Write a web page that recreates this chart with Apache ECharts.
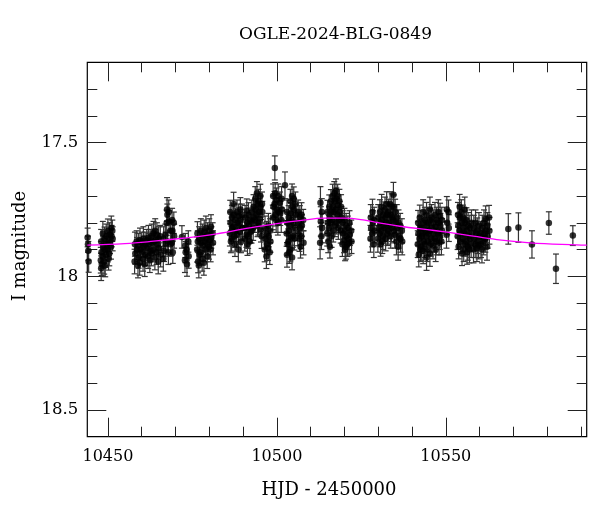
<!DOCTYPE html>
<html>
<head>
<meta charset="utf-8">
<script src="https://cdn.jsdelivr.net/npm/echarts@6/dist/echarts.min.js"></script>
<style>html,body{margin:0;padding:0;background:#fff}#c{width:600px;height:512px}</style>
</head>
<body>
<div id="c"></div>
<script>
// ---- data ----
const titleText = 'OGLE-2024-BLG-0849';
const xName = 'HJD - 2450000';
const yName = 'I magnitude';
const xMajor = [10450, 10500, 10550];
const xMinor = [10450,10460,10470,10480,10490,10500,10510,10520,10530,10540,10550,10560,10570,10580,10590];
const yMajor = [17.5, 18, 18.5];
const yMinor = [17.3,17.4,17.5,17.6,17.7,17.8,17.9,18,18.1,18.2,18.3,18.4,18.5];

const hjd = [
// A
10444.0,10444.1,10444.2,10444.3,
// B
10448.0,10448.1,10447.9,10448.2,10448.0,
10448.5,10448.6,10448.4,
10449.0,10449.1,10448.9,10449.2,
10449.5,10449.6,10449.4,
10450.0,10450.1,10449.9,10450.2,
10450.5,10450.6,10450.4,
10451.0,10451.1,10450.9,
10451.3,10451.4,
// C
10458.0,10458.1,10457.9,
10458.5,10458.6,
10459.0,10459.1,10458.9,
10459.5,10459.6,10459.4,
10460.0,10460.1,
10460.5,10460.6,10460.4,
10461.0,10461.1,10460.9,
10461.5,10461.6,
10462.0,10462.1,10461.9,
10462.5,10462.6,10462.4,
10463.0,10463.1,10462.9,
10463.5,10463.6,10463.4,
10464.0,10464.1,10463.9,
10464.5,10464.6,10464.4,
10465.0,10465.1,10464.9,
10465.5,10465.6,
// D
10466.5,10466.6,10466.4,
10467.0,10467.1,
10467.5,10467.6,10467.4,10467.7,
10468.0,10468.1,10467.9,
10468.5,10468.6,
10469.0,10469.1,10468.9,10469.2,
10469.5,10469.6,
// E
10471.9,
10472.9,10473.0,10472.8,
10473.3,10473.4,
10473.8,10473.9,
// F
10476.5,10476.6,10476.4,10476.7,
10477.0,10477.1,10476.9,
10477.5,10477.6,10477.4,
10478.0,10478.1,10477.9,
10478.5,10478.6,10478.4,
10479.0,10479.1,10478.9,
10479.5,10479.6,10479.4,
10480.0,10480.1,10479.9,
10480.5,10480.6,10480.4,
10481.0,10481.1,
// G
10486.2,10486.3,10486.1,10486.4,
10486.7,10486.8,10486.6,
10487.2,10487.3,10487.1,10487.4,
10487.7,10487.8,10487.6,
10488.2,10488.3,10488.1,
10488.7,10488.8,10488.6,
10489.2,10489.3,10489.1,10489.4,
10489.7,10489.8,
// H
10490.6,10490.7,10490.5,
10491.1,10491.2,10491.0,10491.3,
10491.6,10491.7,10491.5,
10492.1,10492.2,10492.0,
10492.6,10492.7,10492.5,
10493.1,10493.2,10493.0,
// I
10493.6,10493.7,10493.5,
10494.1,10494.2,10494.0,10494.3,
10494.6,10494.7,10494.5,
10495.1,10495.2,10495.0,10495.3,
10495.6,10495.7,10495.5,
// J
10496.5,10496.6,10496.4,
10497.0,10497.1,10496.9,
10497.5,10497.6,10497.4,
10498.0,10498.1,10497.9,
// K
10498.9,10499.0,10498.8,
10499.4,10499.5,10499.3,10499.6,
10499.9,10500.0,10499.8,
10500.4,10500.5,10500.3,
10500.9,10501.0,
10501.4,10501.5,10501.3,
10502.4,
// L
10503.0,10503.1,10502.9,10503.2,10503.0,
10503.5,10503.6,10503.4,10503.7,
10504.0,10504.1,10503.9,10504.2,10504.0,
10504.5,10504.6,10504.4,10504.7,10504.5,
10505.0,10505.1,10504.9,10505.2,
10505.5,10505.6,10505.4,
// M
10506.3,10506.4,10506.2,
10506.8,10506.9,10506.7,10507.0,
10507.3,10507.4,10507.2,
10507.8,10507.9,
// N
10512.9,10513.0,10512.8,
10513.3,10513.4,10513.2,
// O
10515.0,10515.1,10514.9,10515.2,
10515.5,10515.6,10515.4,10515.7,
10516.0,10516.1,10515.9,10516.2,
10516.5,10516.6,10516.4,10516.7,
10517.0,10517.1,10516.9,10517.2,
10517.5,10517.6,10517.4,10517.7,
10518.0,10518.1,10517.9,10518.2,
10518.5,10518.6,10518.4,
10519.0,10519.1,10518.9,
// P
10519.5,10519.6,10519.4,
10520.0,10520.1,10519.9,10520.2,
10520.5,10520.6,10520.4,
10521.0,10521.1,10520.9,
10521.5,10521.6,10521.4,
10522.0,10522.1,
// Q
10527.8,10527.9,10527.7,
10528.3,10528.4,10528.2,
10528.8,10528.9,10528.7,
// R
10530.0,10530.1,10529.9,
10530.5,10530.6,10530.4,10530.7,
10531.0,10531.1,10530.9,10531.2,
10531.5,10531.6,10531.4,
10532.0,10532.1,10531.9,10532.2,
10532.5,10532.6,10532.4,10532.7,
10533.0,10533.1,10532.9,
10533.5,10533.6,10533.4,10533.7,
10534.0,10534.1,10533.9,
10534.5,10534.6,10534.4,10534.7,
10535.0,10535.1,10534.9,
10535.5,10535.6,10535.4,
10536.0,10536.1,10535.9,
10536.5,10536.6,
10537.0,10537.1,
// S
10541.8,10541.9,10541.7,10542.0,
10542.3,10542.4,10542.2,10542.5,
10542.8,10542.9,10542.7,
10543.3,10543.4,10543.2,10543.5,10543.3,
10543.8,10543.9,10543.7,
10544.3,10544.4,10544.2,10544.5,10544.3,
10544.8,10544.9,10544.7,
10545.3,10545.4,10545.2,10545.5,10545.3,
10545.8,10545.9,10545.7,
10546.3,10546.4,10546.2,
10546.8,10546.9,10546.7,10547.0,
10547.3,10547.4,10547.2,
10547.8,10547.9,10547.7,10548.0,
10548.3,10548.4,10548.2,
10548.8,10548.9,10548.7,
10550.3,10550.4,10550.2,
10550.8,10550.9,
// T
10553.6,10553.7,10553.5,10553.8,
10554.1,10554.2,10554.0,10554.3,
10554.6,10554.7,10554.5,10554.8,
10555.1,10555.2,10555.0,10555.3,
10555.6,10555.7,10555.5,10555.8,
10556.1,10556.2,10556.0,10556.3,
10556.6,10556.7,10556.5,
10557.1,10557.2,10557.0,
10557.6,10557.7,10557.5,
// U
10558.3,10558.4,10558.2,
10558.8,10558.9,10558.7,
10559.3,10559.4,10559.2,
10559.8,10559.9,10559.7,
10560.3,10560.4,
10560.8,10560.9,10560.7,
10561.3,10561.4,10561.2,
10561.8,10561.9,10561.7,
10562.3,10562.4,10562.2,
10562.8,10562.9,
// isolated late points
10568.5,10571.5,10575.5,10580.5,10582.6,10587.6
];

const mag = [
// A
17.855,17.88,17.905,17.945,
// B
17.87,17.91,17.94,17.955,17.97,
17.84,17.89,17.925,
17.86,17.90,17.945,17.96,
17.85,17.88,17.92,
17.83,17.87,17.90,17.935,
17.845,17.875,17.915,
17.82,17.85,17.89,
17.83,17.86,
// C
17.88,17.915,17.945,
17.87,17.90,
17.885,17.93,17.96,
17.865,17.90,17.95,
17.875,17.91,
17.86,17.89,17.935,
17.88,17.92,17.955,
17.865,17.895,
17.855,17.88,17.925,
17.87,17.905,17.94,
17.85,17.875,17.915,
17.84,17.87,17.90,
17.83,17.865,17.93,
17.845,17.88,17.91,
17.86,17.895,17.945,
17.85,17.92,
// D
17.86,17.905,17.935,
17.845,17.88,
17.75,17.77,17.80,17.87,
17.76,17.795,17.91,
17.83,17.88,
17.79,17.83,17.875,17.91,
17.80,17.85,
// E
17.853,
17.885,17.91,17.94,
17.90,17.955,
17.87,17.925,
// F
17.84,17.87,17.90,17.945,
17.86,17.92,17.96,
17.83,17.875,17.91,
17.85,17.885,17.935,
17.835,17.87,17.95,
17.82,17.86,17.90,
17.845,17.88,17.925,
17.83,17.865,17.89,
17.815,17.855,17.90,
17.84,17.875,
// G
17.76,17.80,17.84,17.87,
17.78,17.82,17.86,
17.73,17.77,17.815,17.85,
17.79,17.83,17.88,
17.76,17.80,17.845,
17.775,17.81,17.90,
17.75,17.79,17.835,17.87,
17.77,17.82,
// H
17.78,17.82,17.86,
17.755,17.80,17.845,17.88,
17.77,17.81,17.85,
17.79,17.835,17.87,
17.76,17.795,17.83,
17.74,17.78,17.82,
// I
17.71,17.75,17.79,
17.69,17.73,17.77,17.81,
17.72,17.76,17.80,
17.70,17.74,17.785,17.83,
17.73,17.76,17.85,
// J
17.82,17.86,17.90,
17.84,17.88,17.925,
17.81,17.85,17.895,
17.83,17.87,17.91,
// K
17.70,17.74,17.78,
17.595,17.69,17.73,17.77,
17.715,17.75,17.79,
17.70,17.76,17.80,
17.725,17.765,
17.71,17.75,17.79,
17.66,
// L
17.76,17.80,17.84,17.88,17.92,
17.78,17.83,17.87,17.91,
17.72,17.765,17.81,17.855,17.90,
17.70,17.74,17.79,17.85,17.93,
17.71,17.75,17.80,17.86,
17.73,17.77,17.82,
// M
17.76,17.80,17.84,
17.78,17.82,17.86,17.89,
17.77,17.81,17.85,
17.79,17.875,
// N
17.725,17.795,17.875,
17.76,17.82,17.85,
// O
17.76,17.80,17.84,17.87,
17.74,17.78,17.82,17.89,
17.72,17.76,17.80,17.85,
17.70,17.74,17.79,17.83,
17.69,17.72,17.76,17.81,
17.68,17.71,17.75,17.80,
17.70,17.735,17.77,17.82,
17.72,17.76,17.79,
17.74,17.78,17.83,
// P
17.80,17.84,17.88,
17.79,17.83,17.865,17.90,
17.81,17.85,17.89,
17.82,17.86,17.88,
17.80,17.845,17.875,
17.83,17.87,
// Q
17.78,17.82,17.86,
17.76,17.80,17.84,
17.79,17.83,17.88,
// R
17.78,17.82,17.86,
17.76,17.80,17.84,17.88,
17.74,17.79,17.83,17.87,
17.77,17.81,17.85,
17.75,17.78,17.82,17.86,
17.73,17.77,17.80,17.84,
17.76,17.80,17.83,
17.73,17.77,17.81,17.85,
17.74,17.78,17.82,
17.695,17.74,17.79,17.83,
17.76,17.80,17.845,
17.78,17.82,17.87,
17.80,17.85,17.89,
17.81,17.86,
17.83,17.87,
// S
17.80,17.84,17.88,17.92,
17.78,17.82,17.86,17.90,
17.82,17.85,17.89,
17.76,17.80,17.84,17.87,17.905,
17.79,17.83,17.88,
17.77,17.81,17.85,17.90,17.93,
17.80,17.84,17.87,
17.75,17.79,17.83,17.88,17.915,
17.78,17.82,17.86,
17.80,17.84,17.885,
17.77,17.815,17.86,17.90,
17.79,17.83,17.87,
17.76,17.80,17.84,17.875,
17.775,17.81,17.85,
17.79,17.83,17.87,
17.75,17.80,17.845,
17.76,17.82,
// T
17.77,17.81,17.85,17.89,
17.74,17.78,17.83,17.87,
17.76,17.80,17.84,17.915,
17.78,17.82,17.86,17.90,
17.75,17.80,17.84,17.88,
17.79,17.83,17.87,17.91,
17.81,17.85,17.89,
17.82,17.86,17.90,
17.80,17.84,17.88,
// U
17.82,17.86,17.90,
17.80,17.84,17.88,
17.83,17.87,17.895,
17.81,17.85,17.885,
17.84,17.88,
17.82,17.855,17.90,
17.80,17.84,17.87,
17.785,17.83,17.86,
17.81,17.85,17.89,
17.78,17.83,
// isolated late points
17.823,17.818,17.881,17.801,17.972,17.848
];

const err = [
// A
0.035,0.03,0.035,0.04,
// B
0.045,0.04,0.048,0.042,0.046,
0.045,0.04,0.046,
0.044,0.04,0.047,0.042,
0.045,0.04,0.046,
0.044,0.04,0.047,0.042,
0.045,0.04,0.046,
0.045,0.04,0.046,
0.04,0.045,
// C
0.045,0.04,0.046,
0.04,0.045,
0.045,0.04,0.046,
0.045,0.04,0.046,
0.04,0.045,
0.045,0.04,0.046,
0.045,0.04,0.046,
0.04,0.045,
0.045,0.04,0.046,
0.045,0.04,0.046,
0.045,0.04,0.046,
0.045,0.04,0.046,
0.045,0.04,0.046,
0.045,0.04,0.046,
0.045,0.04,0.046,
0.04,0.045,
// D
0.045,0.04,0.046,
0.04,0.045,
0.044,0.04,0.047,0.042,
0.045,0.04,0.046,
0.04,0.045,
0.044,0.04,0.047,0.042,
0.04,0.045,
// E
0.042,
0.045,0.04,0.046,
0.04,0.045,
0.04,0.045,
// F
0.044,0.04,0.047,0.042,
0.045,0.04,0.046,
0.045,0.04,0.046,
0.045,0.04,0.046,
0.045,0.04,0.046,
0.045,0.04,0.046,
0.045,0.04,0.046,
0.045,0.04,0.046,
0.045,0.04,0.046,
0.04,0.045,
// G
0.044,0.04,0.047,0.042,
0.045,0.04,0.046,
0.044,0.04,0.047,0.042,
0.045,0.04,0.046,
0.045,0.04,0.046,
0.045,0.04,0.046,
0.044,0.04,0.047,0.042,
0.04,0.045,
// H
0.045,0.04,0.046,
0.044,0.04,0.047,0.042,
0.045,0.04,0.046,
0.045,0.04,0.046,
0.045,0.04,0.046,
0.045,0.04,0.046,
// I
0.045,0.04,0.046,
0.044,0.04,0.047,0.042,
0.045,0.04,0.046,
0.044,0.04,0.047,0.042,
0.045,0.04,0.046,
// J
0.045,0.04,0.046,
0.045,0.04,0.046,
0.045,0.04,0.046,
0.045,0.04,0.046,
// K
0.045,0.04,0.046,
0.045,0.04,0.047,0.042,
0.045,0.04,0.046,
0.045,0.04,0.046,
0.04,0.045,
0.045,0.04,0.046,
0.05,
// L
0.045,0.04,0.048,0.042,0.046,
0.044,0.04,0.047,0.042,
0.045,0.04,0.048,0.042,0.046,
0.045,0.04,0.048,0.042,0.046,
0.044,0.04,0.047,0.042,
0.045,0.04,0.046,
// M
0.045,0.04,0.046,
0.044,0.04,0.047,0.042,
0.045,0.04,0.046,
0.04,0.045,
// N
0.06,0.055,0.06,
0.05,0.055,0.05,
// O
0.044,0.04,0.047,0.042,
0.044,0.04,0.047,0.042,
0.044,0.04,0.047,0.042,
0.044,0.04,0.047,0.042,
0.044,0.04,0.047,0.042,
0.044,0.04,0.047,0.042,
0.044,0.04,0.047,0.042,
0.045,0.04,0.046,
0.045,0.04,0.046,
// P
0.045,0.04,0.046,
0.044,0.04,0.047,0.042,
0.045,0.04,0.046,
0.045,0.04,0.046,
0.045,0.04,0.046,
0.04,0.045,
// Q
0.048,0.045,0.05,
0.048,0.045,0.05,
0.048,0.045,0.05,
// R
0.048,0.045,0.05,
0.046,0.044,0.05,0.045,
0.046,0.044,0.05,0.045,
0.048,0.045,0.05,
0.046,0.044,0.05,0.045,
0.046,0.044,0.05,0.045,
0.048,0.045,0.05,
0.046,0.044,0.05,0.045,
0.048,0.045,0.05,
0.046,0.044,0.05,0.045,
0.048,0.045,0.05,
0.048,0.045,0.05,
0.048,0.045,0.05,
0.045,0.05,
0.045,0.05,
// S
0.046,0.044,0.05,0.045,
0.046,0.044,0.05,0.045,
0.048,0.045,0.05,
0.046,0.044,0.05,0.045,0.048,
0.048,0.045,0.05,
0.046,0.044,0.05,0.045,0.048,
0.048,0.045,0.05,
0.046,0.044,0.05,0.045,0.048,
0.048,0.045,0.05,
0.048,0.045,0.05,
0.046,0.044,0.05,0.045,
0.048,0.045,0.05,
0.046,0.044,0.05,0.045,
0.048,0.045,0.05,
0.048,0.045,0.05,
0.048,0.045,0.05,
0.045,0.05,
// T
0.046,0.044,0.05,0.045,
0.046,0.044,0.05,0.045,
0.046,0.044,0.05,0.045,
0.046,0.044,0.05,0.045,
0.046,0.044,0.05,0.045,
0.046,0.044,0.05,0.045,
0.048,0.045,0.05,
0.048,0.045,0.05,
0.048,0.045,0.05,
// U
0.048,0.045,0.05,
0.048,0.045,0.05,
0.048,0.045,0.05,
0.048,0.045,0.05,
0.045,0.05,
0.048,0.045,0.05,
0.048,0.045,0.05,
0.048,0.045,0.05,
0.048,0.045,0.05,
0.045,0.05,
// isolated late points
0.057,0.055,0.051,0.042,0.055,0.037
];

// model light curve (magenta)
const modelT   = [10443.9,10455.0,10463.5,10472.0,10480.8,10492.0,10500.0,10506.8,10514.2,10520.0,10526.0,10529.0,10536.4,10546.6,10555.2,10565.1,10574.9,10588.7,10591.7];
const modelMag = [17.884, 17.878, 17.869, 17.858, 17.844, 17.819, 17.803, 17.792, 17.783, 17.783, 17.79, 17.798, 17.813, 17.829, 17.844, 17.863, 17.875, 17.883, 17.884];

const X_MIN = 10443.9, X_MAX = 10591.7, Y_MIN = 17.2, Y_MAX = 18.6;

// ---- chart ----
const FONT = '"DejaVu Serif", "Liberation Serif", serif';
const chart = echarts.init(document.getElementById('c'), null, {renderer: 'canvas'});

function xAx(pos, vals, len, labels) {
  return {
    type: 'value', position: pos, min: X_MIN, max: X_MAX, gridIndex: 0,
    axisLine: {show: false}, splitLine: {show: false},
    axisTick: {show: true, inside: true, length: len, customValues: vals, lineStyle: {color: '#222', width: 1}},
    axisLabel: labels ? {show: true, customValues: xMajor, color: '#000', fontFamily: FONT, fontSize: 16, margin: 12,
      formatter: v => String(Math.round(v))} : {show: false}
  };
}
function yAx(pos, vals, len, labels) {
  return {
    type: 'value', position: pos, min: Y_MIN, max: Y_MAX, inverse: true, gridIndex: 0,
    axisLine: {show: false}, splitLine: {show: false},
    axisTick: {show: true, inside: true, length: len, customValues: vals, lineStyle: {color: '#222', width: 1}},
    axisLabel: labels ? {show: true, customValues: yMajor, color: '#000', fontFamily: FONT, fontSize: 16.5, margin: 9,
      formatter: v => String(+v.toFixed(2))} : {show: false}
  };
}

const errData = hjd.map((t, i) => [t, mag[i] - err[i], mag[i] + err[i]]);
const ptData = hjd.map((t, i) => [t, mag[i]]);
const modelData = modelT.map((t, i) => [t, modelMag[i]]);

const graphics = [
  {type: 'text', x: 335.5, y: 35, style: {text: titleText, fill: '#000', font: '17px ' + FONT, align: 'center', verticalAlign: 'middle'}},
  {type: 'text', x: 329, y: 490, style: {text: xName, fill: '#000', font: '18px ' + FONT, align: 'center', verticalAlign: 'middle'}},
  {type: 'text', x: 20.5, y: 246, rotation: Math.PI / 2, style: {text: yName, fill: '#000', font: '18px ' + FONT, align: 'center', verticalAlign: 'middle'}}
];
if (hjd.length !== mag.length || mag.length !== err.length) {
  graphics.push({type: 'text', x: 100, y: 80, style: {text: 'LEN ' + hjd.length + ' ' + mag.length + ' ' + err.length, fill: 'red', font: '14px sans-serif'}});
}

chart.setOption({
  animation: false,
  backgroundColor: '#fff',
  grid: {left: 87.3, right: 13.3, top: 62.3, bottom: 75.3, show: true, borderColor: '#000', borderWidth: 1.2, backgroundColor: 'transparent', containLabel: false, outerBoundsMode: 'none'},
  xAxis: [
    xAx('bottom', xMajor, 19, true),
    xAx('bottom', xMinor, 10, false),
    xAx('top', xMajor, 19, false),
    xAx('top', xMinor, 10, false)
  ],
  yAxis: [
    yAx('left', yMajor, 19, true),
    yAx('left', yMinor, 10, false),
    yAx('right', yMajor, 19, false),
    yAx('right', yMinor, 10, false)
  ],
  graphic: graphics,
  series: [
    {
      type: 'custom', xAxisIndex: 0, yAxisIndex: 0, z: 2, silent: true,
      data: errData,
      encode: {x: 0, y: [1, 2]},
      renderItem: function (params, api) {
        const x = api.value(0);
        const a = api.coord([x, api.value(1)]);
        const b = api.coord([x, api.value(2)]);
        const w = 3;
        const st = {stroke: '#333', lineWidth: 1.2};
        return {type: 'group', children: [
          {type: 'line', shape: {x1: a[0], y1: a[1], x2: b[0], y2: b[1]}, style: st},
          {type: 'line', shape: {x1: a[0] - w, y1: a[1], x2: a[0] + w, y2: a[1]}, style: st},
          {type: 'line', shape: {x1: b[0] - w, y1: b[1], x2: b[0] + w, y2: b[1]}, style: st}
        ]};
      }
    },
    {
      type: 'scatter', xAxisIndex: 0, yAxisIndex: 0, z: 3, silent: true,
      data: ptData, symbol: 'circle', symbolSize: 6.5,
      itemStyle: {color: '#000'}
    },
    {
      type: 'line', xAxisIndex: 0, yAxisIndex: 0, z: 4, silent: true,
      data: modelData, showSymbol: false, smooth: 0.4,
      lineStyle: {color: '#ff00ff', width: 1.3}
    }
  ]
});
</script>
</body>
</html>
